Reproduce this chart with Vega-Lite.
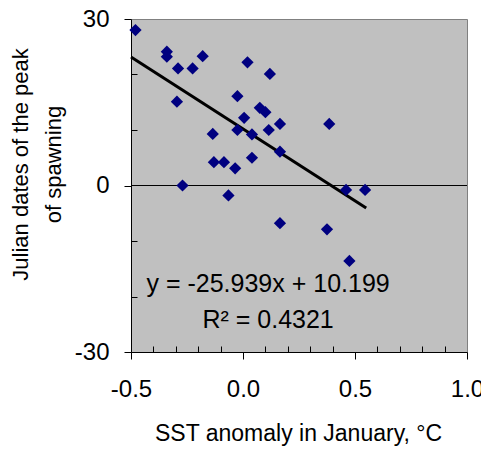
{
  "$schema": "https://vega.github.io/schema/vega-lite/v6.json",
  "width": 336,
  "height": 333,
  "autosize": {"type": "none"},
  "padding": {"left": 131, "top": 19, "right": 14, "bottom": 98},
  "background": "white",
  "config": {
    "view": {"fill": "#C0C0C0", "stroke": "#808080", "strokeWidth": 1},
    "axis": {
      "labelFont": "Liberation Sans",
      "titleFont": "Liberation Sans",
      "labelColor": "black",
      "titleColor": "black",
      "domainColor": "black",
      "tickColor": "black",
      "grid": false,
      "titleFontWeight": "normal"
    }
  },
  "datasets": {
    "points": [
      {"sst": -0.48, "day": 28.0},
      {"sst": -0.34, "day": 24.1},
      {"sst": -0.34, "day": 23.2},
      {"sst": -0.29, "day": 21.1},
      {"sst": -0.225, "day": 21.1},
      {"sst": -0.18, "day": 23.3},
      {"sst": 0.02, "day": 22.2},
      {"sst": 0.12, "day": 20.1},
      {"sst": -0.295, "day": 15.1},
      {"sst": -0.025, "day": 16.1},
      {"sst": 0.075, "day": 14.0},
      {"sst": 0.1, "day": 13.2},
      {"sst": 0.005, "day": 12.2},
      {"sst": 0.165, "day": 11.1},
      {"sst": 0.385, "day": 11.1},
      {"sst": -0.135, "day": 9.3},
      {"sst": -0.025, "day": 10.0},
      {"sst": 0.04, "day": 9.2},
      {"sst": 0.115, "day": 10.0},
      {"sst": 0.165, "day": 6.1},
      {"sst": 0.04, "day": 5.0},
      {"sst": -0.13, "day": 4.2},
      {"sst": -0.085, "day": 4.2},
      {"sst": -0.035, "day": 3.1},
      {"sst": -0.27, "day": 0.0},
      {"sst": -0.065, "day": -1.8},
      {"sst": 0.46, "day": -0.8},
      {"sst": 0.545, "day": -0.8},
      {"sst": 0.165, "day": -6.8},
      {"sst": 0.375, "day": -7.9},
      {"sst": 0.475, "day": -13.6}
    ],
    "trend": [
      {"sst": -0.5, "day": 23.17},
      {"sst": 0.55, "day": -4.07}
    ],
    "zero": [{"day": 0}],
    "labels": [
      {"sst": 0.112, "day": -19.2, "text": "y = -25.939x + 10.199"},
      {"sst": 0.112, "day": -25.7, "text": "R² = 0.4321"}
    ]
  },
  "layer": [
    {
      "data": {"name": "zero"},
      "mark": {"type": "rule", "color": "black", "strokeWidth": 1},
      "encoding": {
        "y": {
          "field": "day", "type": "quantitative",
          "scale": {"domain": [-30, 30], "nice": false},
          "axis": {"orient": "left", "values": [-20, -10, 10, 20], "tickSize": -6, "labels": false, "domain": false, "title": null}
        }
      }
    },
    {
      "data": {"name": "trend"},
      "mark": {"type": "line", "color": "black", "strokeWidth": 3},
      "encoding": {
        "x": {
          "field": "sst", "type": "quantitative",
          "scale": {"domain": [-0.5, 1.0], "nice": false, "zero": false},
          "axis": {"orient": "bottom", "values": [-0.4, -0.3, -0.2, -0.1, 0.1, 0.2, 0.3, 0.4, 0.6, 0.7, 0.8, 0.9], "tickSize": -6, "labels": false, "domain": false, "title": null}
        },
        "y": {"field": "day", "type": "quantitative", "axis": null}
      }
    },
    {
      "data": {"name": "points"},
      "mark": {"type": "point", "shape": "diamond", "filled": true, "color": "#000080", "opacity": 1, "size": 150},
      "encoding": {
        "x": {
          "field": "sst", "type": "quantitative",
          "axis": {
            "orient": "bottom", "values": [-0.5, 0, 0.5, 1.0],
            "labelExpr": "replace(format(datum.value, '.1f'), '\u2212', '-')",
            "tickSize": 7, "labelPadding": 37, "labelBaseline": "alphabetic", "labelFontSize": 24,
            "labelFlush": false, "labelOverlap": false,
            "title": "SST anomaly in January, °C", "titleFontSize": 23,
            "titleBaseline": "alphabetic", "titleX": 167, "titleY": 88
          }
        },
        "y": {
          "field": "day", "type": "quantitative",
          "axis": {
            "orient": "left", "values": [-30, 0, 30],
            "labelExpr": "replace(format(datum.value, 'd'), '\u2212', '-')",
            "tickSize": 7, "labelPadding": 15, "labelFontSize": 24, "labelFlush": false, "labelOverlap": false,
            "title": ["Julian dates of the peak", "of spawning"], "titleFontSize": 22,
            "titleLineHeight": 33, "titleX": -99, "titleY": 145
          }
        }
      }
    },
    {
      "data": {"name": "labels"},
      "mark": {"type": "text", "font": "Liberation Sans", "fontSize": 25, "color": "black", "baseline": "alphabetic", "align": "center"},
      "encoding": {
        "x": {"field": "sst", "type": "quantitative", "axis": null},
        "y": {"field": "day", "type": "quantitative", "axis": null},
        "text": {"field": "text"}
      }
    }
  ],
  "resolve": {"axis": {"x": "independent", "y": "independent"}}
}
